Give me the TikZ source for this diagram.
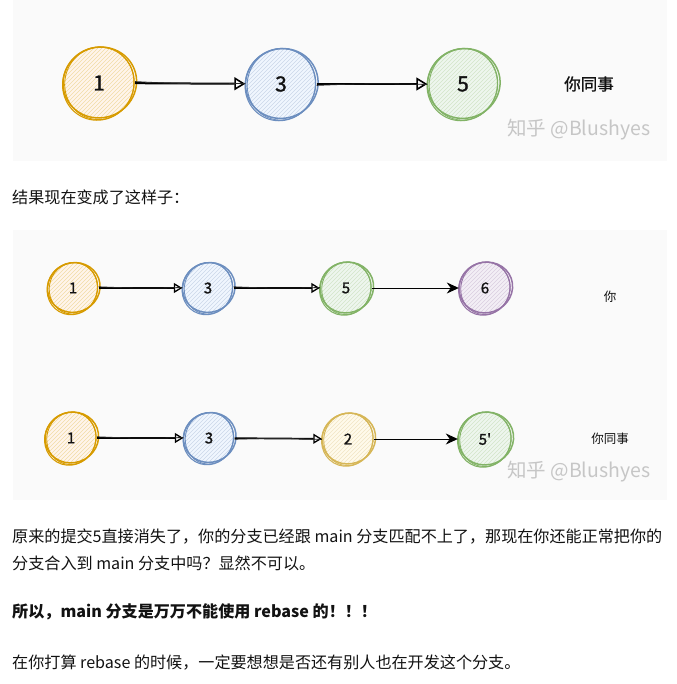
\documentclass[tikz,border=0pt]{standalone}
\usepackage{fontspec}
\setmainfont{Noto Sans CJK SC}
\newfontfamily\medfont[FakeBold=1.3]{Noto Sans CJK SC}
\usetikzlibrary{arrows.meta}
\definecolor{txt}{HTML}{121212}
\definecolor{panel}{HTML}{FAFAFA}
\definecolor{oS}{HTML}{D79B00}\definecolor{oF}{HTML}{FFE6CC}
\definecolor{bS}{HTML}{6C8EBF}\definecolor{bF}{HTML}{DAE8FC}
\definecolor{gS}{HTML}{82B366}\definecolor{gF}{HTML}{D5E8D4}
\definecolor{pS}{HTML}{9673A6}\definecolor{pF}{HTML}{E1D5E7}
\definecolor{yS}{HTML}{D6B656}\definecolor{yF}{HTML}{FFF2CC}
\definecolor{wm}{HTML}{C6C6C6}
% name, x, y, r, stroke, fill, label, fontsize
\newcommand{\sknode}[8]{%
  \begin{scope}
    \fill[#6!40] (#2,#3) circle[radius=#4];
    \clip (#2,#3) circle[radius=#4];
    \foreach \i in {-80,-76,...,80}
      \draw[#5!35, line width=0.4pt] ({#2+\i-60},{#3+60}) -- ({#2+\i+60},{#3-60});
  \end{scope}
  \draw[#5, line width=1.5pt] ({#2+0.8},{#3-0.5}) ellipse[x radius={#4+1}, y radius={#4-0.8}, rotate=20];
  \draw[#5, line width=1.1pt] ({#2-0.6},{#3+0.6}) ellipse[x radius={#4-0.6}, y radius={#4+1}, rotate=-30];
  \draw[#5, line width=0.9pt] ({#2+0.3},{#3+0.3}) ellipse[x radius={#4+0.4}, y radius={#4-1.5}, rotate=75];
  \node[circle, inner sep=0pt, minimum size={(2*#4)*1pt}, text=txt, font=\medfont\fontsize{#8}{#8}\selectfont] (#1) at (#2,#3) {#7};
}
\tikzset{
  body/.style={anchor=west, inner sep=0pt, text=txt, font=\fontsize{16.1}{18}\selectfont},
  openarr/.style={-{Triangle[open, length=11pt, width=13pt, line width=1.6pt]}, line width=2pt, black},
  openarrs/.style={-{Triangle[open, length=8.5pt, width=10pt, line width=1.3pt]}, line width=1.7pt, black},
  fillarr/.style={-{Stealth[length=12pt, width=11pt]}, line width=0.9pt, black},
  ghost/.style={line width=0.8pt, black!85},
  wmark/.style={anchor=west, inner sep=0pt, text=wm, font=\fontsize{19.5}{21}\selectfont},
  lab/.style={inner sep=0pt, text=txt},
}
\begin{document}
\begin{tikzpicture}[x=1pt, y=-1pt]
\useasboundingbox (0,0) rectangle (676,684);
\fill[white] (0,0) rectangle (676,684);
% panels
\fill[panel] (13,0) rectangle (667,161);
\fill[panel] (13,230) rectangle (667,500);

% ---- top diagram ----
\sknode{ta}{99}{83}{36}{oS}{oF}{1}{21}
\sknode{tb}{281}{84}{35.5}{bS}{bF}{3}{21}
\sknode{tc}{463}{84}{35.5}{gS}{gF}{5}{21}
\draw[openarr] (ta) -- (tb);
\draw[ghost] ([yshift=1.4pt]ta.east) to[bend right=2] ([yshift=0.6pt]tb.west);
\draw[openarr] (tb) -- (tc);
\draw[ghost] ([yshift=-1.4pt]tb.east) to[bend left=2] ([yshift=-0.5pt]tc.west);
\node[lab, font=\medfont\fontsize{16.5}{18}\selectfont] (tl) at (589,84) {你同事};
\node[wmark] (w1) at (507,130) {知乎 @Blushyes};

% ---- caption ----
\node[body] (cap) at (12,197) {结果现在变成了这样子：};

% ---- second diagram, row 1 ----
\sknode{ra}{73}{288}{25.5}{oS}{oF}{1}{15}
\sknode{rb}{208}{288}{25.5}{bS}{bF}{3}{15}
\sknode{rc}{346}{288}{26}{gS}{gF}{5}{15}
\sknode{rd}{485}{288}{26}{pS}{pF}{6}{15}
\draw[openarrs] (ra) -- (rb);
\draw[ghost] ([yshift=1.2pt]ra.east) to[bend right=2] ([yshift=0.5pt]rb.west);
\draw[openarrs] (rb) -- (rc);
\draw[ghost] ([yshift=1.2pt]rb.east) to[bend right=2] ([yshift=0.5pt]rc.west);
\draw[fillarr] (rc) -- (rd);
\node[lab, font=\fontsize{12.5}{14}\selectfont] (l1) at (610,297) {你};

% ---- row 2 ----
\sknode{sa}{71}{438}{26}{oS}{oF}{1}{15}
\sknode{sb}{209}{438}{25.5}{bS}{bF}{3}{15}
\sknode{sc}{348}{439}{26}{yS}{yF}{2}{15}
\sknode{sd}{485}{439}{27}{gS}{gF}{5'}{15}
\draw[openarrs] (sa) -- (sb);
\draw[ghost] ([yshift=1.2pt]sa.east) to[bend right=2] ([yshift=0.5pt]sb.west);
\draw[openarrs] (sb) -- (sc);
\draw[ghost] ([yshift=-1.2pt]sb.east) to[bend left=2] ([yshift=-0.5pt]sc.west);
\draw[fillarr] (sc) -- (sd);
\node[lab, font=\fontsize{12.5}{14}\selectfont] (l2) at (610,439) {你同事};
\node[wmark] (w2) at (507,472) {知乎 @Blushyes};

% ---- paragraph text ----
\node[body] (p1) at (12,537) {原来的提交5直接消失了，你的分支已经跟 main 分支匹配不上了，那现在你还能正常把你的};
\node[body] (p2) at (12,563) {分支合入到 main 分支中吗？显然不可以。};
\node[body, font=\fontsize{16.1}{18}\selectfont\bfseries] (p3) at (12,612) {所以，main 分支是万万不能使用 rebase 的！！！};
\node[body] (p4) at (12,663) {在你打算 rebase 的时候，一定要想想是否还有别人也在开发这个分支。};
\end{tikzpicture}
\end{document}
